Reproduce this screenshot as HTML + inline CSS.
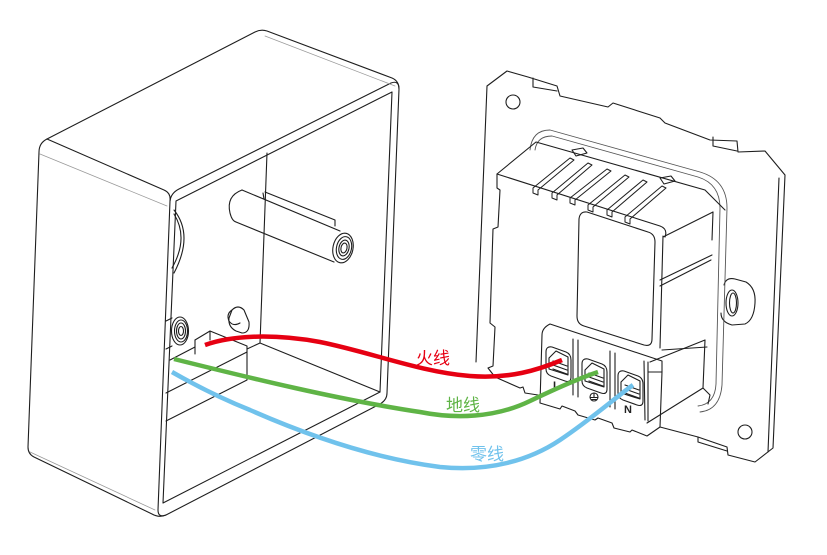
<!DOCTYPE html>
<html><head><meta charset="utf-8"><style>
html,body{margin:0;padding:0;background:#fff;}
svg{display:block;}
text{font-family:"Liberation Sans","Noto Sans CJK SC",sans-serif;}
</style></head><body>
<svg width="827" height="555" viewBox="0 0 827 555" xmlns="http://www.w3.org/2000/svg">
<rect width="827" height="555" fill="#fff"/>
<g fill="none" stroke="#1e1e1e" stroke-width="1.1" stroke-linejoin="round" stroke-linecap="round">
<!-- ============ BOX ============ -->
<!-- top face back edge & left side -->
<path d="M47,139 L255,32 Q261,29 267,31 L392,78 Q399,81 399,89"/>
<path d="M47,139 Q39,143 39,152 L28,447 Q28,454 34,457 L152,514 Q159,518 166,515"/>
<path d="M47,139 L164,190 Q171,193 170,201"/>
<!-- front rim outer -->
<path d="M170,201 Q171,193 179,189 L391,83 Q399,80 399,89 L387,393 Q387,400 380,404 L166,515 Q158,518 158,510 Z"/>
<!-- front rim inner -->
<path d="M176,201 L392,92 L380,392 L163,503 Z"/>
<!-- grey tangent edges -->
<g stroke="#9a9a9a" stroke-width="0.8">
<path d="M40,154 L167,206"/>
<path d="M265,36 L395,86"/>
<path d="M30,452 L155,510"/>
</g>
<!-- interior -->
<path d="M267,153 L260,343 L380,392"/>
<path d="M260,343 L247,349"/>
<!-- left wall arc -->
<path d="M174,210 Q194,235 174,273"/>
<path d="M174,214 Q189,238 172,268"/>
<!-- block at bottom-left -->
<path d="M195,340 L210,331 L247,346 L247,380 L166,421"/>
<path d="M166,393 L247,352"/>
<path d="M195,340 L195,354"/>
<path d="M210,331 L210,340"/>
<path d="M170,360 L195,347"/>
<!-- small round boss -->
<ellipse cx="180" cy="331" rx="8.5" ry="14"/>
<ellipse cx="181" cy="331" rx="6.5" ry="11"/>
<ellipse cx="181" cy="331" rx="4.5" ry="8"/>
<ellipse cx="181" cy="331" rx="2.5" ry="4.5"/>
<path d="M172,318 L166,321 M172,346 L166,349"/>
<!-- knob -->
<path d="M232,310 Q238,304 244,310 L249,322 Q250,333 242,333 L236,331 Q228,327 229,318 Z"/>
<path d="M232,310 Q226,314 229,321 Q233,327 240,323"/>
<!-- long cylinder post -->
<path d="M242,190 L340,231"/>
<path d="M236,222 L334,262"/>
<path d="M242,190 Q226,196 230,213 Q232,221 236,222"/>
<ellipse cx="343" cy="248" rx="10" ry="15" transform="rotate(12 343 248)"/>
<ellipse cx="344" cy="248" rx="7.5" ry="11.5" transform="rotate(12 344 248)"/>
<ellipse cx="344" cy="248" rx="5" ry="8" transform="rotate(12 344 248)"/>
<ellipse cx="344" cy="248" rx="3" ry="5" transform="rotate(12 344 248)"/>
<path d="M265,192 L335,220 L335,226"/>
<path d="M263,193 L264,199"/>

<!-- ============ SWITCH PLATE ============ -->
<path d="M476,362 L487,86 L507,71 L528,77 L557,86 L560,96 L608,107 L613,103 L660,118 L665,123 L710,140 L737,141 L738,152 L765,151 L785,175 L773,448 L755,462 L728,455 L727,447 L698,437 L660,427"/>
<path d="M779,178 L768,452"/>
<path d="M533,78 L533,87 L557,91 M713,137 L713,146 L737,151"/>
<path d="M698,437 L698,442 L727,451"/>
<circle cx="513" cy="102" r="7"/>
<circle cx="745" cy="432" r="7"/>
<!-- ear -->
<path d="M724,285 Q726,277 735,279 L746,282 Q756,288 755,303 Q754,320 745,324 L732,325 Q721,322 721,313"/>
<ellipse cx="732" cy="303" rx="6" ry="13"/>
<ellipse cx="733" cy="303" rx="3.5" ry="10"/>
<!-- housing flange -->
<g stroke="#555" stroke-width="0.9">
<path d="M530,150 Q532,130 550,130 L700,172 Q727,180 727,208 L722,385 Q720,410 700,412"/>
<path d="M535,150 Q537,136 552,136 L698,177 Q720,184 720,208 L716,384 Q715,404 698,406"/>
</g>
<!-- module left side -->
<path d="M497,174 L536,142 L705,190 L725,210"/>
<path d="M497,174 L660,226 Q668,229 665,237"/>
<path d="M497,174 L497,188 L500,190 L498,227 L493,229 L490,323 L495,327 L493,366 L488,368 L495,377 L520,388 L523,387 L525,393 L538,395"/>
<!-- vents -->
<g stroke-width="1">
<path d="M533,188 L570,158 L574,160 L538,190 L538,195 L533,193 Z"/>
<path d="M552,193 L588,163 L592,165 L557,195 L557,200 L552,198 Z"/>
<path d="M570,198 L607,169 L611,171 L575,200 L575,205 L570,203 Z"/>
<path d="M588,205 L625,175 L629,177 L593,207 L593,212 L588,210 Z"/>
<path d="M607,210 L643,180 L647,182 L612,212 L612,217 L607,215 Z"/>
<path d="M625,217 L662,186 L666,188 L630,219 L630,224 L625,222 Z"/>
</g>
<path d="M572,150 L583,148 L587,153 L576,156 Z"/>
<path d="M660,178 L671,176 L675,181 L664,184 Z"/>
<!-- module main face right edge & right face -->
<path d="M663,236 L660,348"/>
<path d="M663,237 L713,212"/>
<path d="M713,212 L712,240"/>
<path d="M660,280 L712,255 M660,286 L711,260"/>
<path d="M662,350 L707,347"/>
<path d="M650,362 L705,340 L703,388 L647,423"/>
<path d="M703,388 L710,395 L708,404"/>
<!-- window -->
<path d="M587,212 L648,232 Q655,234 655,242 L652,339 Q652,347 644,345 L584,326 Q577,324 577,316 L579,219 Q580,211 587,212 Z"/>
<!-- terminal block -->
<path d="M542,335 Q542,328 550,324 L662,361 L662,372"/>
<path d="M542,335 L540,403 L560,409 L562,406 L575,411 L578,415 L595,420 L598,418 L612,423 L614,428 L630,432 L632,430 L647,436 L660,427"/>
<path d="M573,339 L573,395 M578,340 L578,397"/>
<path d="M610,351 L610,407 M615,353 L615,409"/>
<path d="M644,361 L645,420 M648,362 L648,421"/>
<path d="M648,372 L662,372 L660,427"/>
<!-- sockets -->
<path d="M546,352 Q546,346 552,347 L566,352 Q571,354 571,360 L571,377 Q571,383 565,381 L551,376 Q546,374 546,369 Z"/>
<path d="M549,358 L556,351 L568,357 L568,375 L549,369 Z"/>
<path d="M553,361 L567,366 M553,365 L567,370 M553,369 L567,374"/>
<path d="M582,364 Q582,358 588,359 L602,364 Q607,366 607,372 L607,389 Q607,395 601,393 L587,388 Q582,386 582,381 Z"/>
<path d="M585,370 L592,363 L604,369 L604,387 L585,381 Z"/>
<path d="M589,373 L603,378 M589,377 L603,382 M589,381 L603,386"/>
<path d="M618,376 Q618,370 624,371 L638,376 Q643,378 643,384 L643,401 Q643,407 637,405 L623,400 Q618,398 618,393 Z"/>
<path d="M621,382 L628,375 L640,381 L640,399 L621,393 Z"/>
<path d="M625,385 L639,390 M625,389 L639,394 M625,393 L639,398"/>
<!-- ground symbol -->
<circle cx="594" cy="397" r="4"/>
<path d="M594,393 L594,397 M590.5,397.5 L597.5,397.5 M591.5,399.5 L596.5,399.5"/>
</g>
<text x="553" y="389" font-size="11" font-weight="bold" fill="#222">L</text>
<text x="624" y="413" font-size="11" font-weight="bold" fill="#222">N</text>

<!-- ============ WIRES ============ -->
<g fill="none" stroke-width="4.5" stroke-linecap="butt">
<path d="M205,345 C230,336 270,333 320,342 C370,352 420,372 470,376 C510,379 538,370 562,360" stroke="#e60012"/>
<path d="M174,359 C250,378 340,400 420,412 C455,419 495,418 530,401 C555,389 580,378 598,372" stroke="#5fb446"/>
<path d="M172,372 C200,388 225,400 250,410 C300,432 370,458 440,467 C490,472 530,460 560,440 C590,420 615,398 633,385" stroke="#70c2ec"/>
</g>
<text x="416" y="364" font-size="17" fill="#e60012">火线</text>
<text x="446" y="411" font-size="17" fill="#5fb446">地线</text>
<text x="470" y="460" font-size="17" fill="#70c2ec">零线</text>
</svg>
</body></html>
